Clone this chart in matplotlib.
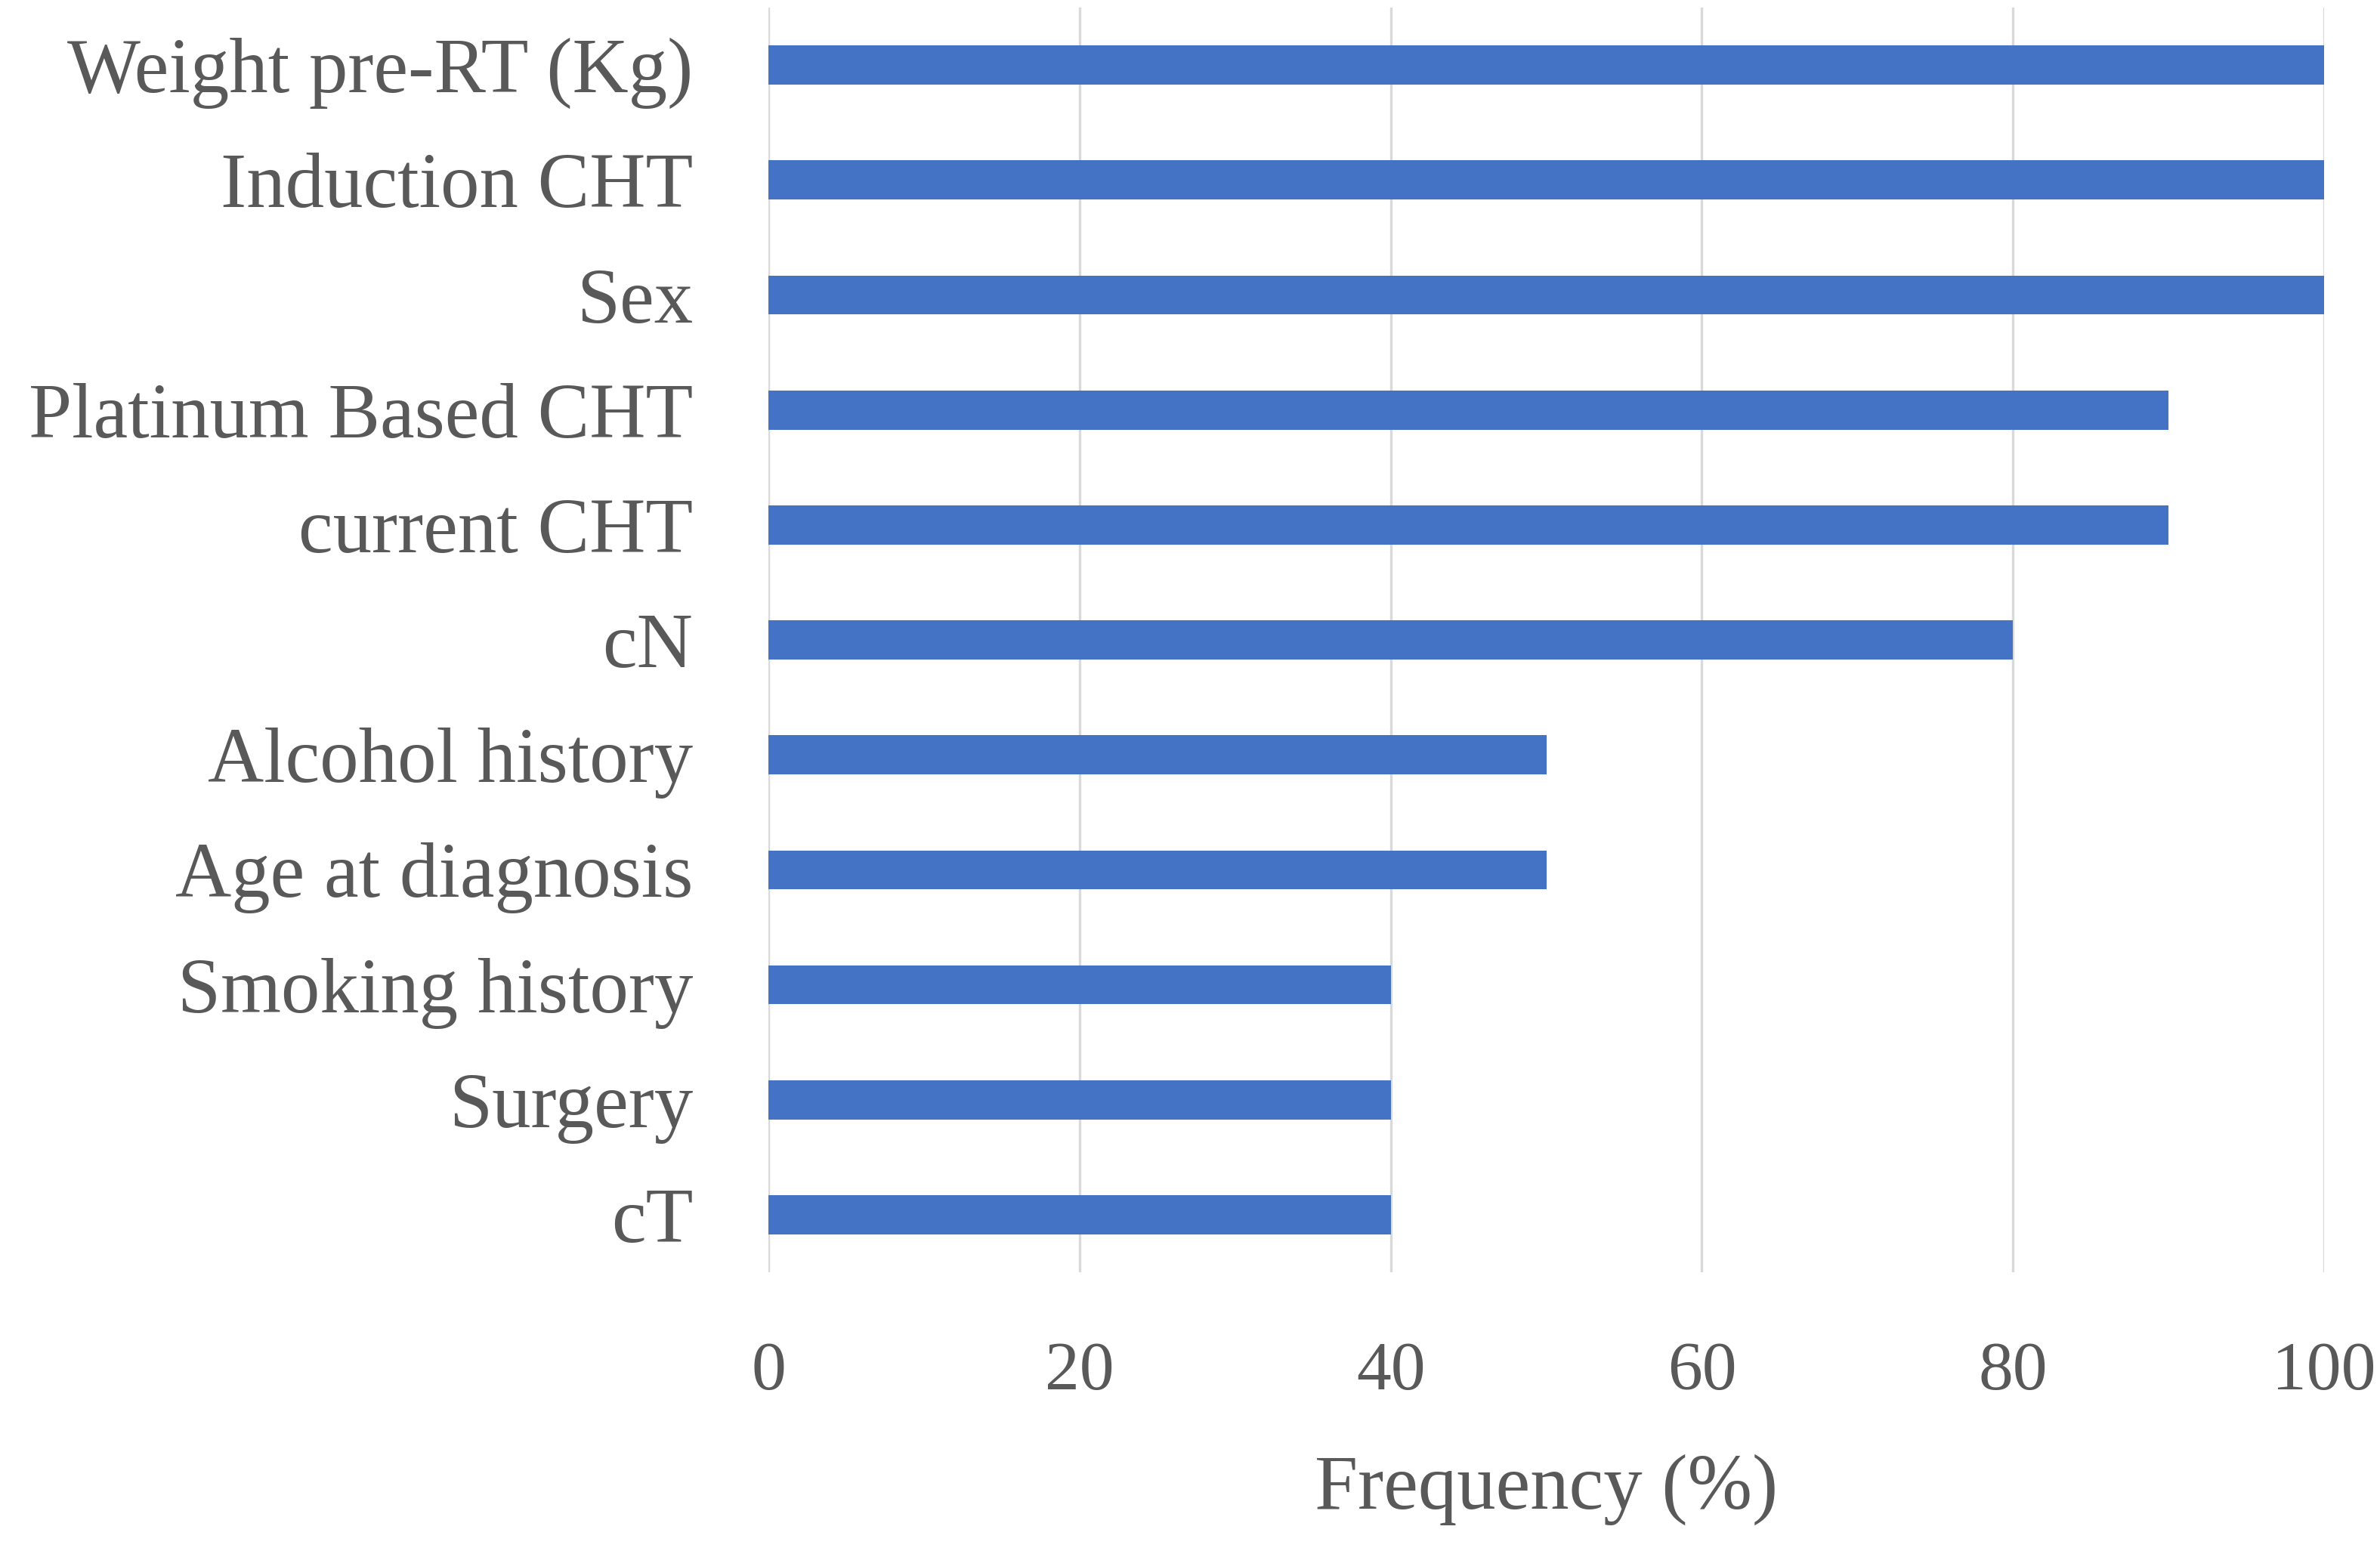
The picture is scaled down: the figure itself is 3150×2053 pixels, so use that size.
import matplotlib.pyplot as plt

features = ['Weight pre-RT (Kg)', 'Induction CHT', 'Sex', 'Platinum Based CHT',
            'current CHT', 'cN', 'Alcohol history', 'Age at diagnosis',
            'Smoking history', 'Surgery', 'cT']
frequency = [100, 100, 100, 90, 90, 80, 50, 50, 40, 40, 40]
x_ticks = [0, 20, 40, 60, 80, 100]

plt.rcParams['font.family'] = ['Liberation Serif', 'DejaVu Serif']

fig = plt.figure(figsize=(15.75, 10.265), dpi=200)
ax = fig.add_axes([0.3229, 0.1797, 0.6536, 0.8154])

ax.barh(features, frequency, height=0.34, color='#4472C4', zorder=3)
ax.set_ylim(len(features) - 0.5, -0.5)
ax.set_xlim(0, 100)
ax.set_xticks(x_ticks)

ax.grid(axis='x', color='#D9D9D9', linewidth=1.2, zorder=0)
for s in ax.spines.values():
    s.set_visible(False)
ax.tick_params(axis='both', length=0, colors='#595959')
ax.tick_params(axis='y', labelsize=37, pad=36)
ax.tick_params(axis='x', labelsize=33, pad=33)
ax.set_xlabel('Frequency (%)', fontsize=37, color='#595959', labelpad=24)

fig.savefig('out.png', dpi=200, facecolor='white')
